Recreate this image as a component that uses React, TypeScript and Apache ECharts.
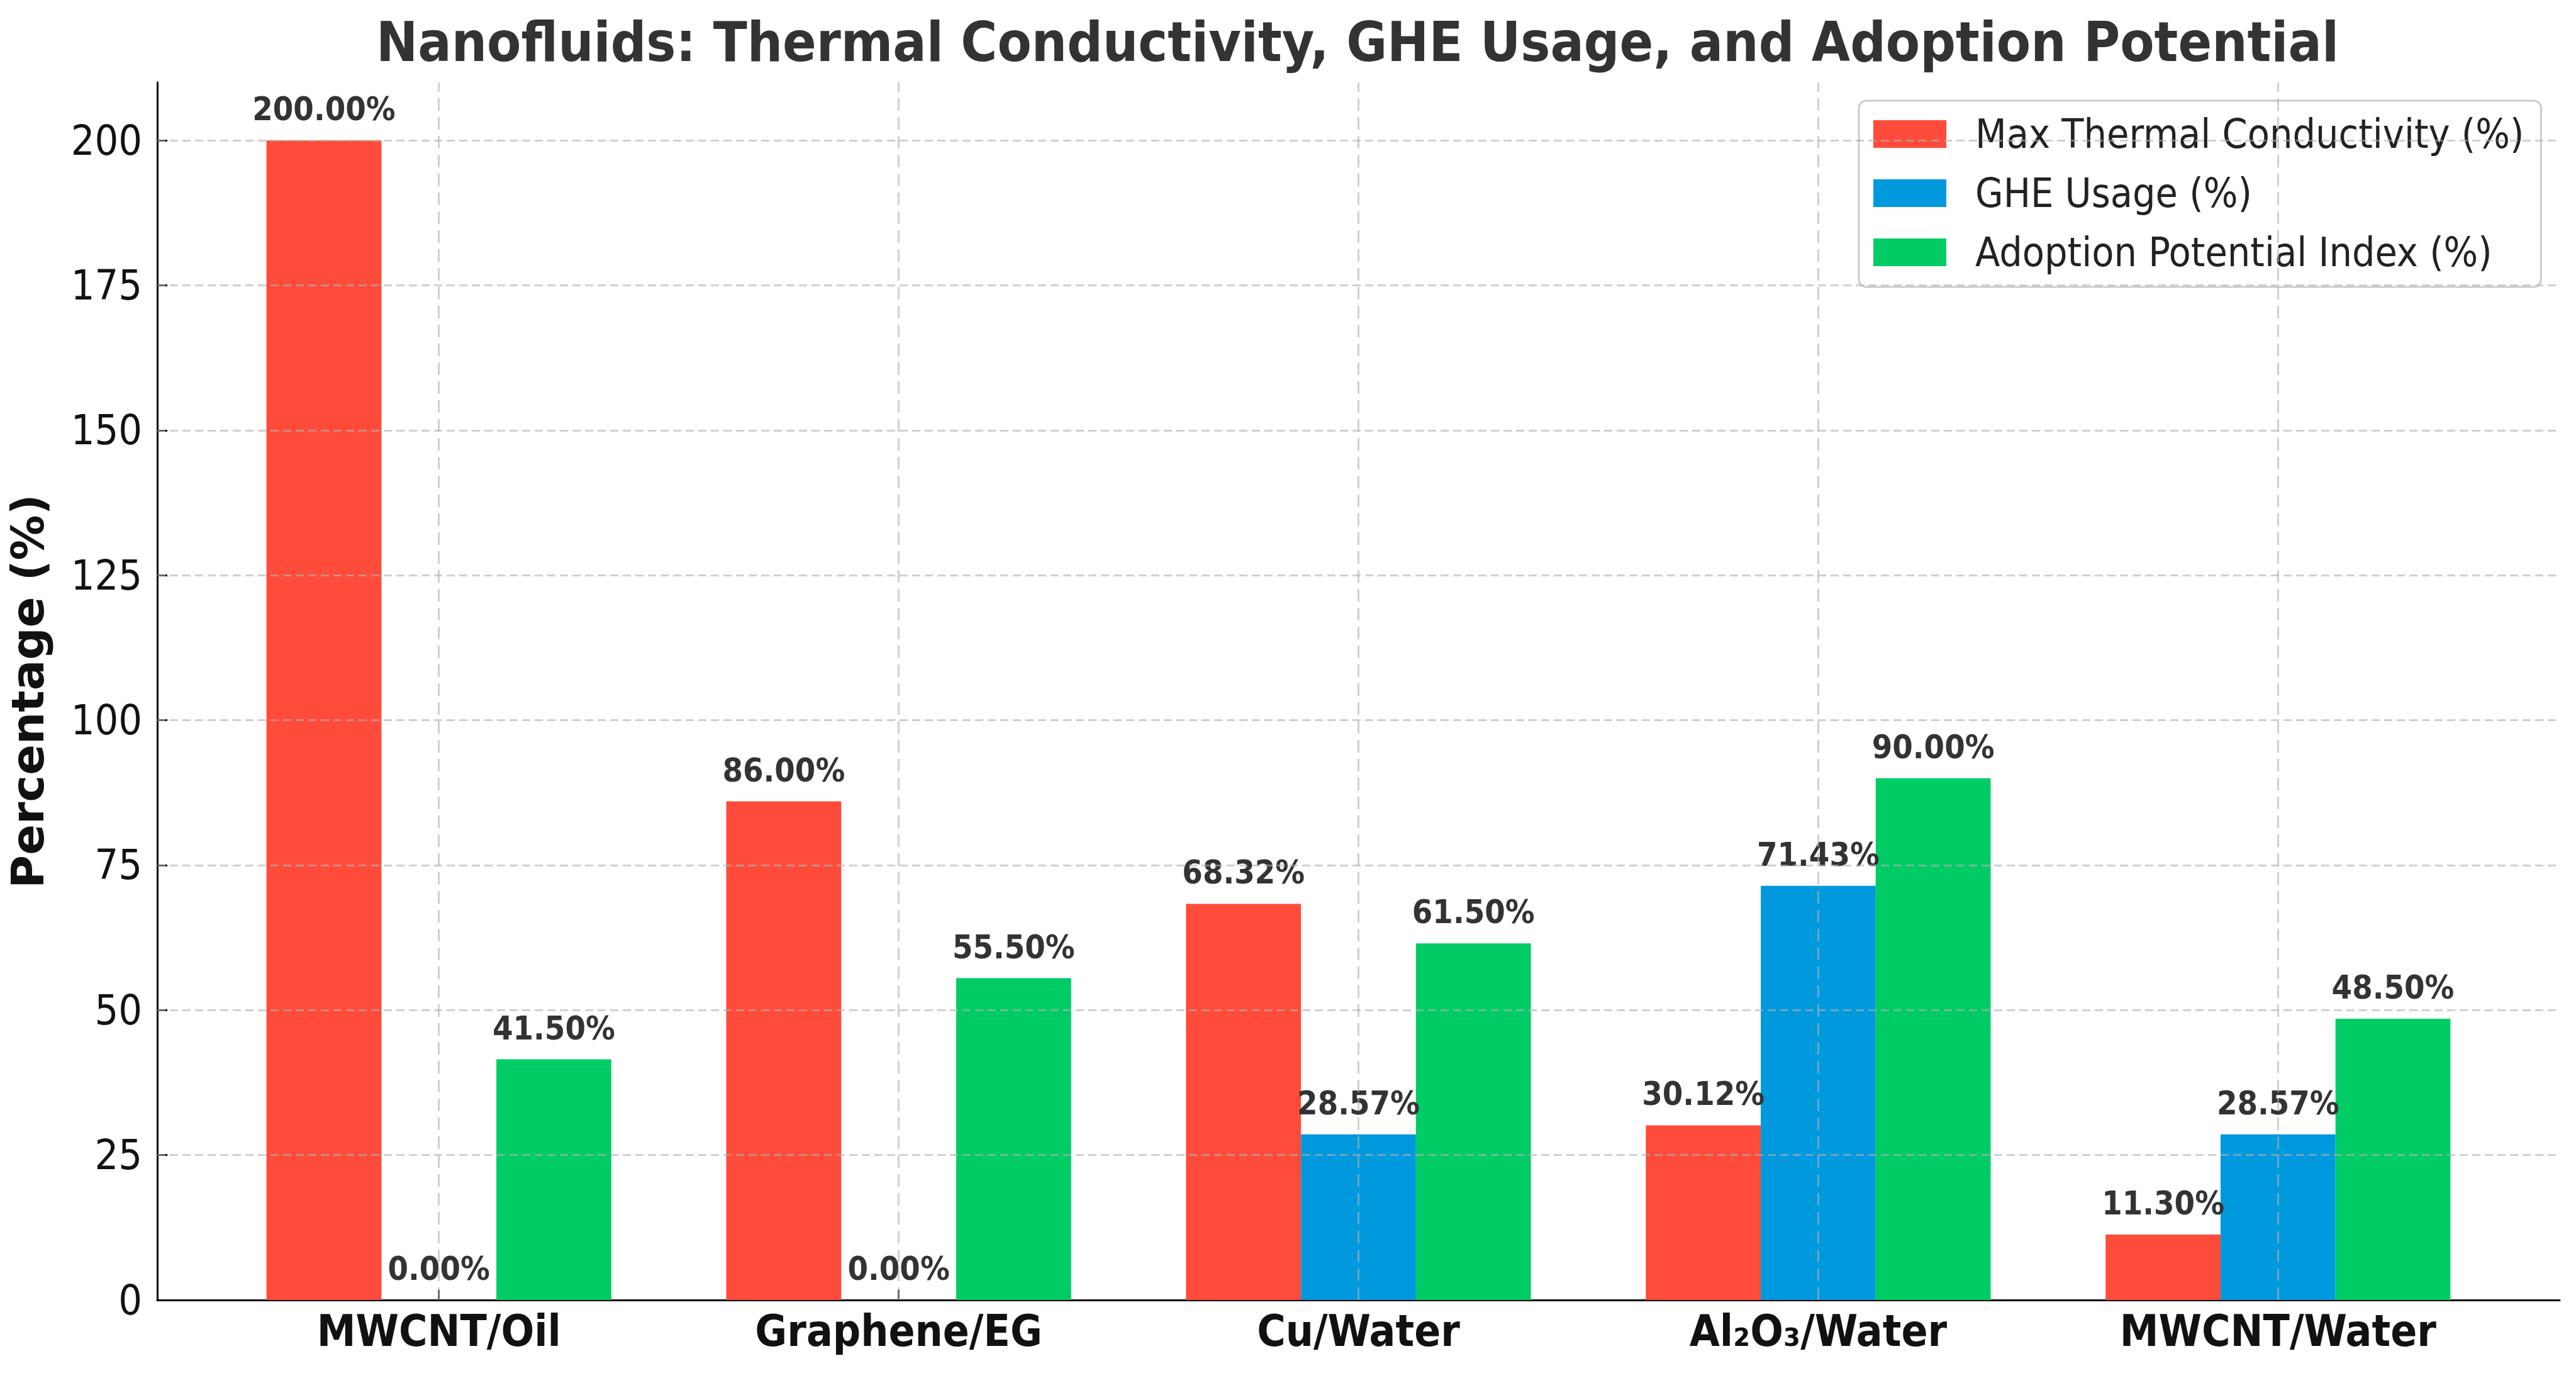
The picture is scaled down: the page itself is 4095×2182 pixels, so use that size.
import React, { useEffect, useRef } from 'react';
import * as echarts from 'echarts';

const categories = ['MWCNT/Oil', 'Graphene/EG', 'Cu/Water', 'Al₂O₃/Water', 'MWCNT/Water'];
const maxThermal = [200, 86, 68.32, 30.12, 11.3];
const gheUsage = [0, 0, 28.57, 71.43, 28.57];
const adoption = [41.5, 55.5, 61.5, 90, 48.5];
const yTicks = [0, 25, 50, 75, 100, 125, 150, 175, 200];
const seriesNames = ['Max Thermal Conductivity (%)', 'GHE Usage (%)', 'Adoption Potential Index (%)'];
const colors = ['#FF4B3A', '#0099DD', '#00CC66'];

const FONT = '"DejaVu Sans Condensed", "DejaVu Sans", sans-serif';
const FONT_REG = '"DejaVu Sans", sans-serif';

export default function App() {
  const ref = useRef<HTMLDivElement>(null);
  useEffect(() => {
    const chart = echarts.init(ref.current as HTMLDivElement, null, { renderer: 'svg' });
    const idx = categories.map((_, i) => i);
    const mk = (name: string, values: number[], color: string) => ({
      type: 'bar',
      name,
      data: values.map((v, i) => [i, v]),
      barWidth: '25%',
      barGap: '0%',
      itemStyle: { color },
      z: 2,
      label: {
        show: true,
        position: 'top',
        distance: 24,
        formatter: (p: any) => p.value[1].toFixed(2) + '%',
        fontFamily: FONT,
        fontWeight: 'bold',
        fontSize: 52,
        color: '#333333',
      },
    });
    const gridColor = 'rgba(176,176,176,0.6)';
    const option: any = {
      animation: false,
      backgroundColor: '#ffffff',
      textStyle: { fontFamily: FONT },
      title: {
        text: 'Nanofluids: Thermal Conductivity, GHE Usage, and Adoption Potential',
        left: 2158,
        textAlign: 'center',
        top: 22,
        padding: 0,
        textStyle: { fontFamily: FONT, fontWeight: 'bold', fontSize: 88, color: '#333333' },
      },
      legend: {
        orient: 'vertical',
        left: 2955,
        top: 160,
        padding: [21, 27, 23, 23],
        itemWidth: 116,
        itemHeight: 44,
        itemGap: 30,
        icon: 'rect',
        backgroundColor: 'rgba(255,255,255,0.8)',
        borderColor: '#cccccc',
        borderWidth: 3,
        borderRadius: 12,
        data: seriesNames,
        textStyle: { fontFamily: FONT, fontSize: 64, color: '#222222', lineHeight: 44, padding: [0, 0, 0, 41] },
      },
      grid: { left: 248, right: 26, top: 131, bottom: 116, containLabel: false },
      xAxis: {
        type: 'value',
        min: -0.6125,
        max: 4.6125,
        axisLine: { show: true, onZero: false, lineStyle: { color: '#000', width: 3 } },
        axisTick: { show: true, inside: true, length: 16, customValues: idx, lineStyle: { color: '#000', width: 3 } },
        axisLabel: {
          customValues: idx,
          formatter: (v: number) => categories[Math.round(v)] ?? '',
          margin: 14,
          fontFamily: FONT,
          fontWeight: 'bold',
          fontSize: 69,
          color: '#111111',
        },
        splitLine: { show: false },
      },
      yAxis: {
        type: 'value',
        min: 0,
        max: 210,
        interval: 25,
        name: 'Percentage (%)',
        nameLocation: 'middle',
        nameRotate: 90,
        nameGap: 170,
        nameTextStyle: { fontFamily: FONT_REG, fontWeight: 'bold', fontSize: 72, color: '#111111' },
        axisLine: { show: true, onZero: false, lineStyle: { color: '#000', width: 3 } },
        axisTick: { show: true, inside: true, length: 16, customValues: yTicks, lineStyle: { color: '#000', width: 3 } },
        axisLabel: { customValues: yTicks, margin: 24, fontFamily: FONT, fontSize: 66, color: '#111111' },
        splitLine: { show: false },
      },
      series: [
        mk(seriesNames[0], maxThermal, colors[0]),
        mk(seriesNames[1], gheUsage, colors[1]),
        mk(seriesNames[2], adoption, colors[2]),
        {
          type: 'line',
          name: 'grid',
          data: [],
          z: 5,
          silent: true,
          markLine: {
            silent: true,
            symbol: 'none',
            label: { show: false },
            emphasis: { disabled: true },
            data: [
              ...yTicks.filter((t) => t > 0).map((t) => ({
                yAxis: t,
                lineStyle: { color: gridColor, width: 3, type: [13, 7] },
              })),
              ...idx.map((i) => ({
                xAxis: i,
                lineStyle: { color: gridColor, width: 3, type: [20, 10] },
              })),
            ],
          },
        },
      ],
    };
    chart.setOption(option);
    return () => chart.dispose();
  }, []);
  return <div ref={ref} style={{ position: 'fixed', left: 0, top: 0, width: 4095, height: 2182 }} />;
}
